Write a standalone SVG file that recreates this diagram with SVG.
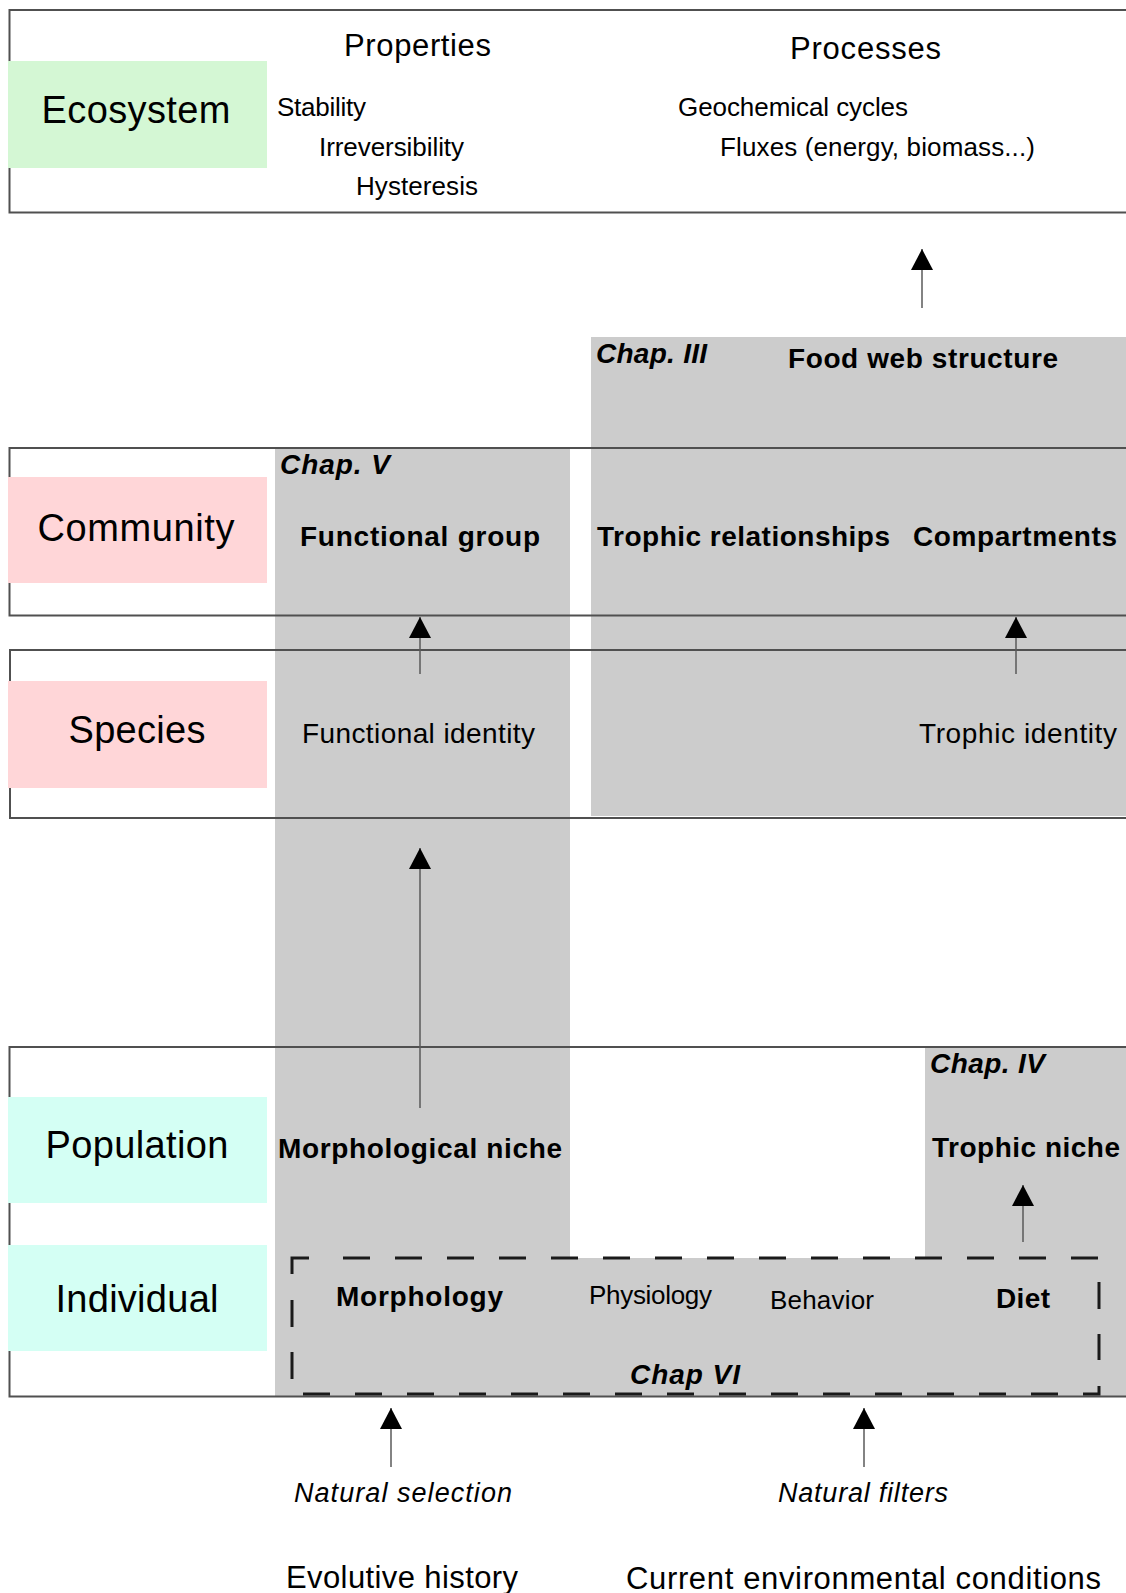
<svg xmlns="http://www.w3.org/2000/svg" width="1126" height="1593" viewBox="0 0 1126 1593">
<style>
text{font-family:"Liberation Sans",Arial,sans-serif;fill:#000}
.lvl{font-size:38px;text-anchor:middle}
.hd{font-size:31px}
.it{font-size:26px}
.b{font-size:28px;font-weight:bold}
.bi{font-size:28px;font-weight:bold;font-style:italic}
.n{font-size:28px}
.sm{font-size:26px}
.em{font-size:27px;font-style:italic}
.frame{fill:none;stroke:#505050;stroke-width:2}
.gray{fill:#cccccc}
.dash{fill:none;stroke:#1a1a1a;stroke-width:3}
.dl{stroke-dasharray:27 25}
.arr{stroke:#5a5a5a;stroke-width:1.5;fill:none;marker-end:url(#ah)}
</style>
<defs>
<marker id="ah" markerUnits="userSpaceOnUse" markerWidth="22" markerHeight="22" viewBox="0 0 21 22" refX="21" refY="11" orient="auto">
<path d="M0,0 L21,11 L0,22 z" fill="#000"/>
</marker>
</defs>
<rect width="1126" height="1593" fill="#fff"/>

<g id="shading">
<rect class="gray" x="591" y="337" width="535" height="479"/>
<rect class="gray" x="275" y="449" width="295" height="947"/>
<rect class="gray" x="925" y="1047" width="201" height="212"/>
<rect class="gray" x="275" y="1258" width="851" height="138"/>
</g>

<g id="ecosystem">
<path class="frame" d="M1126,10 H9.5 V212.5 H1126"/>
<rect x="8" y="61" width="259" height="107" fill="#d4f7d4"/>
<text class="lvl" x="136" y="123" textLength="189">Ecosystem</text>
<text class="hd" x="344" y="56" textLength="147">Properties</text>
<text class="hd" x="790" y="59" textLength="151">Processes</text>
<text class="it" x="277" y="116" textLength="89">Stability</text>
<text class="it" x="319" y="156" textLength="145">Irreversibility</text>
<text class="it" x="356" y="195" textLength="122">Hysteresis</text>
<text class="it" x="678" y="116" textLength="230">Geochemical cycles</text>
<text class="it" x="720" y="156" textLength="315">Fluxes (energy, biomass...)</text>
</g>

<g id="chap3">
<text class="bi" x="596" y="363" textLength="111">Chap. III</text>
<text class="b" x="788" y="368" textLength="270">Food web structure</text>
</g>

<g id="community">
<path class="frame" d="M1126,448 H9.5 V615.5 H1126"/>
<rect x="8" y="477" width="259" height="106" fill="#ffd6d8"/>
<text class="lvl" x="136" y="541" textLength="197">Community</text>
<text class="bi" x="280" y="474" textLength="110">Chap. V</text>
<text class="b" x="300" y="546" textLength="240">Functional group</text>
<text class="b" x="597" y="546" textLength="293">Trophic relationships</text>
<text class="b" x="913" y="546" textLength="204">Compartments</text>
</g>

<g id="species">
<path class="frame" d="M1126,650 H10 V818 H1126"/>
<rect x="8" y="681" width="259" height="107" fill="#ffd6d8"/>
<text class="lvl" x="137" y="743" textLength="137">Species</text>
<text class="n" x="302" y="743" textLength="233">Functional identity</text>
<text class="n" x="919" y="743" textLength="198">Trophic identity</text>
</g>

<g id="population">
<path class="frame" d="M1126,1047 H9.5 V1396.5 H1126"/>
<rect x="8" y="1097" width="259" height="106" fill="#d4fff4"/>
<text class="lvl" x="137" y="1158" textLength="183">Population</text>
<text class="b" x="278" y="1158" textLength="284">Morphological niche</text>
<text class="bi" x="930" y="1073" textLength="115">Chap. IV</text>
<text class="b" x="932" y="1157" textLength="188">Trophic niche</text>
</g>

<g id="individual">
<rect x="8" y="1245" width="259" height="106" fill="#d4fff4"/>
<text class="lvl" x="137" y="1312" textLength="163">Individual</text>
<g id="chap6-box">
<path class="dash" d="M292,1274 V1258 H309"/>
<line class="dash dl" x1="343" y1="1258" x2="1098" y2="1258"/>
<line class="dash dl" x1="292" y1="1300" x2="292" y2="1379"/>
<line class="dash dl" x1="303" y1="1394" x2="1083" y2="1394"/>
<path class="dash" d="M1083,1394 H1099 V1386"/>
<line class="dash dl" x1="1099" y1="1282" x2="1099" y2="1360"/>
</g>
<text class="b" x="336" y="1306" textLength="167">Morphology</text>
<text class="sm" x="589" y="1304" textLength="123">Physiology</text>
<text class="sm" x="770" y="1309" textLength="104">Behavior</text>
<text class="b" x="996" y="1308" textLength="54">Diet</text>
<text class="bi" x="630" y="1384" textLength="110">Chap VI</text>
</g>

<g id="drivers">
<text class="em" x="294" y="1502" textLength="218">Natural selection</text>
<text class="em" x="778" y="1502" textLength="170">Natural filters</text>
<text class="hd" x="286" y="1588" textLength="232">Evolutive history</text>
<text class="hd" x="626" y="1589" textLength="475">Current environmental conditions</text>
</g>

<g id="connectors">
<line class="arr" x1="922" y1="308" x2="922" y2="249"/>
<line class="arr" x1="420" y1="674" x2="420" y2="617"/>
<line class="arr" x1="1016" y1="674" x2="1016" y2="617"/>
<line class="arr" x1="420" y1="1108" x2="420" y2="848"/>
<line class="arr" x1="1023" y1="1242" x2="1023" y2="1185"/>
<line class="arr" x1="391" y1="1467" x2="391" y2="1408"/>
<line class="arr" x1="864" y1="1467" x2="864" y2="1408"/>
</g>
</svg>
